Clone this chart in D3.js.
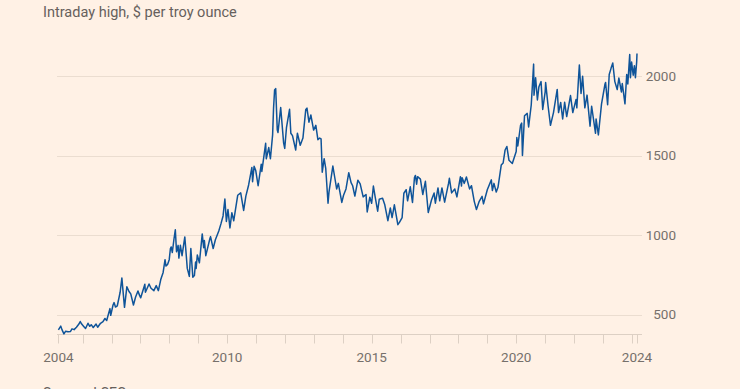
<!DOCTYPE html>
<html><head><meta charset="utf-8">
<script src="https://cdn.jsdelivr.net/npm/d3@7"></script>
<style>
html,body{margin:0;padding:0;background:#fff1e5;}
svg{display:block;}
</style></head>
<body><svg id="chart" width="740" height="389"></svg>
<script>
const title = "Intraday high, $ per troy ounce";
const source = "Source: LSEG";
const yTicks = [500, 1000, 1500, 2000];
const xLabelYears = ["2004", "2010", "2015", "2020", "2024"];
const startDate = "2004-03-01";
const endDate = "2024-03-05";

const dates = [
"2004-03-01","2004-03-31","2004-04-15","2004-05-10","2004-06-01","2004-06-30","2004-07-30","2004-08-20","2004-09-15","2004-10-15","2004-11-15","2004-12-02","2004-12-20",
"2005-01-15","2005-02-07","2005-03-10","2005-04-01","2005-04-20","2005-05-15","2005-06-20","2005-07-10","2005-08-15","2005-09-15","2005-10-10","2005-11-01","2005-12-12","2005-12-22",
"2006-01-20","2006-02-02","2006-02-20","2006-03-15","2006-04-20","2006-05-12","2006-05-25","2006-06-14","2006-07-14","2006-08-10","2006-09-01","2006-10-05","2006-11-01","2006-12-01","2006-12-20",
"2007-01-05","2007-02-26","2007-03-05","2007-04-20","2007-05-15","2007-06-20","2007-07-20","2007-08-16","2007-09-15","2007-10-15","2007-11-08","2007-11-20","2007-12-10","2007-12-31",
"2008-01-15","2008-01-25","2008-02-08","2008-02-29","2008-03-17","2008-04-01","2008-04-21","2008-05-01","2008-05-20","2008-06-10","2008-07-15","2008-08-15","2008-09-10","2008-09-29","2008-10-24","2008-11-13","2008-11-28","2008-12-05","2008-12-20",
"2009-01-15","2009-02-20","2009-03-10","2009-03-19","2009-04-06","2009-05-28","2009-06-05","2009-07-08","2009-08-05","2009-09-17","2009-10-14","2009-11-10","2009-12-03","2009-12-22",
"2010-01-11","2010-02-05","2010-03-01","2010-03-25","2010-05-14","2010-06-21","2010-07-28","2010-08-25","2010-09-29","2010-11-09","2010-11-18","2010-12-07","2010-12-28",
"2011-01-27","2011-03-07","2011-03-15","2011-05-02","2011-05-10","2011-06-10","2011-07-01","2011-07-29","2011-08-10","2011-08-23","2011-09-06","2011-09-26","2011-10-05","2011-11-08","2011-12-15","2011-12-29",
"2012-01-20","2012-02-28","2012-03-15","2012-04-05","2012-05-16","2012-06-06","2012-07-12","2012-08-15","2012-09-20","2012-10-05","2012-10-30","2012-11-23","2012-12-28",
"2013-01-25","2013-02-20","2013-03-15","2013-04-01","2013-04-16","2013-05-10","2013-05-30","2013-06-28","2013-07-10","2013-08-28","2013-09-20","2013-10-15","2013-11-05","2013-12-19",
"2014-01-10","2014-02-10","2014-03-17","2014-04-15","2014-05-05","2014-06-02","2014-07-10","2014-08-08","2014-09-15","2014-10-21","2014-11-05","2014-12-08","2014-12-31",
"2015-01-22","2015-02-15","2015-03-17","2015-04-06","2015-05-18","2015-06-15","2015-07-24","2015-08-24","2015-09-15","2015-10-14","2015-11-27","2015-12-17",
"2016-01-20","2016-02-11","2016-03-11","2016-03-29","2016-05-02","2016-05-30","2016-06-24","2016-07-06","2016-07-21","2016-08-02","2016-09-07","2016-10-07","2016-11-09","2016-12-15",
"2017-01-25","2017-02-27","2017-03-15","2017-04-17","2017-05-09","2017-06-06","2017-07-10","2017-08-29","2017-09-08","2017-10-06","2017-11-15","2017-12-12",
"2018-01-25","2018-02-08","2018-02-15","2018-03-15","2018-04-11","2018-05-21","2018-06-14","2018-07-19","2018-08-16","2018-09-20","2018-10-26","2018-11-13","2018-12-31",
"2019-02-20","2019-03-05","2019-03-25","2019-04-23","2019-05-15","2019-06-25","2019-07-19","2019-08-13","2019-09-04","2019-10-01","2019-11-12","2019-12-31",
"2020-01-08","2020-01-20","2020-02-24","2020-03-09","2020-03-19","2020-04-14","2020-05-18","2020-06-05","2020-07-08","2020-08-07","2020-08-12","2020-09-01","2020-09-24","2020-10-13","2020-11-09","2020-11-30","2020-12-31",
"2021-01-06","2021-02-05","2021-03-08","2021-04-15","2021-06-01","2021-06-18","2021-07-15","2021-08-09","2021-09-03","2021-09-29","2021-11-16","2021-12-15",
"2022-01-25","2022-02-04","2022-02-24","2022-03-08","2022-03-29","2022-04-18","2022-05-16","2022-06-13","2022-07-21","2022-08-10","2022-09-28","2022-10-05","2022-11-03","2022-12-13",
"2023-01-26","2023-02-02","2023-02-28","2023-03-20","2023-04-13","2023-05-04","2023-05-30","2023-06-29","2023-07-20","2023-08-21","2023-09-01","2023-10-05","2023-10-27","2023-11-10","2023-12-04","2023-12-13","2023-12-28",
"2024-01-17","2024-02-01","2024-02-14","2024-03-01","2024-03-05"
];
const highs = [
403,427,405,378,395,392,393,410,405,420,440,456,440,
425,412,445,426,436,418,440,420,445,455,475,462,537,495,
560,575,547,555,640,730,655,545,675,645,630,560,610,648,622,
605,690,640,692,665,650,682,650,720,765,845,805,815,845,
915,925,890,975,1033,895,935,855,935,870,988,790,740,915,735,745,830,790,875,
825,1007,920,965,870,978,990,915,970,1025,1070,1120,1226,1085,
1160,1045,1140,1090,1250,1265,1155,1245,1315,1425,1335,1432,1405,
1310,1445,1400,1577,1480,1550,1480,1630,1800,1912,1921,1660,1645,1802,1580,1545,
1675,1791,1640,1625,1535,1640,1565,1610,1790,1798,1710,1755,1660,
1690,1600,1610,1605,1395,1480,1420,1200,1270,1434,1365,1290,1325,1205,
1250,1290,1392,1330,1310,1245,1345,1322,1240,1255,1145,1238,1200,
1308,1235,1150,1225,1232,1190,1090,1170,1110,1190,1065,1080,
1110,1263,1285,1215,1303,1205,1362,1375,1320,1367,1352,1255,1338,1142,
1220,1264,1200,1296,1215,1296,1207,1326,1357,1265,1290,1240,
1366,1308,1361,1325,1365,1290,1310,1212,1160,1212,1243,1196,1285,
1347,1280,1325,1270,1300,1440,1453,1535,1557,1470,1450,1525,
1613,1560,1690,1704,1500,1750,1765,1680,1818,2075,1880,1990,1850,1933,1965,1790,1900,
1959,1815,1690,1770,1916,1770,1834,1730,1835,1745,1877,1770,
1853,1800,1975,2070,1890,1998,1800,1880,1685,1810,1640,1730,1630,1825,
1950,1960,1820,2010,2050,2082,1965,1915,1987,1900,1953,1825,2010,1950,2135,1990,2088,
2005,2065,1990,2090,2142
];

const parse = d3.timeParse("%Y-%m-%d");
const data = dates.map((d, i) => ({date: parse(d), value: highs[i]}));

const svg = d3.select("#chart");
const x = d3.scaleTime().domain([parse(startDate), parse(endDate)]).range([58.4, 637]);
const y = d3.scaleLinear().domain([380, 2150]).range([333.6, 52.2]);

const gridX0 = 57, gridX1 = 642;
const baseY = 334.5;

// gridlines
svg.append("g").selectAll("line").data(yTicks).join("line")
  .attr("x1", gridX0).attr("x2", gridX1)
  .attr("y1", d => Math.round(y(d)) + 0.5).attr("y2", d => Math.round(y(d)) + 0.5)
  .attr("stroke", "#ebddd0").attr("stroke-width", 1);

// y labels
svg.append("g").selectAll("text").data(yTicks).join("text")
  .attr("x", 676).attr("y", d => y(d)).attr("dy", "0.35em")
  .attr("text-anchor", "end")
  .attr("font-family", "Roboto, 'Liberation Sans', sans-serif")
  .attr("font-size", 13.5).attr("fill", "#76706b")
  .text(d => d);

// x axis baseline
svg.append("line").attr("x1", gridX0).attr("x2", gridX1)
  .attr("y1", baseY).attr("y2", baseY)
  .attr("stroke", "#ddd0c4").attr("stroke-width", 1);

// x ticks: Jan 1 each year within domain plus domain ends
const yearTicks = d3.timeYear.range(parse("2005-01-01"), parse("2024-06-01"));
const allTicks = [parse(startDate), ...yearTicks, parse(endDate)];
svg.append("g").selectAll("line").data(allTicks).join("line")
  .attr("x1", d => Math.round(x(d)) + 0.5).attr("x2", d => Math.round(x(d)) + 0.5)
  .attr("y1", baseY).attr("y2", baseY + 9)
  .attr("stroke", "#ddd0c4").attr("stroke-width", 1);

const labelPos = [parse(startDate), parse("2010-01-01"), parse("2015-01-01"), parse("2020-01-01"), parse(endDate)];
svg.append("g").selectAll("text").data(labelPos).join("text")
  .attr("x", d => x(d)).attr("y", 362)
  .attr("text-anchor", "middle")
  .attr("font-family", "Roboto, 'Liberation Sans', sans-serif")
  .attr("font-size", 13.5).attr("fill", "#76706b")
  .text((d, i) => xLabelYears[i]);

// line
const line = d3.line().x(d => x(d.date)).y(d => y(d.value)).curve(d3.curveLinear);
svg.append("path").datum(data)
  .attr("d", line).attr("fill", "none")
  .attr("stroke", "#0f5499").attr("stroke-width", 1.5)
  .attr("stroke-linejoin", "round");

// title
const t = svg.append("text").attr("x", 43).attr("y", 16.5)
  .attr("font-family", "Roboto, 'Liberation Sans', sans-serif")
  .attr("font-size", 14.5).attr("fill", "#66605c")
  .text(title);
const w = t.node().getComputedTextLength();
t.attr("font-size", 14.5 * 194 / w);

// source (cut off at the bottom edge, as in the reference)
svg.append("text").attr("x", 43).attr("y", 398)
  .attr("font-family", "Roboto, 'Liberation Sans', sans-serif")
  .attr("font-size", 14).attr("fill", "#66605c")
  .text(source);
</script></body></html>
